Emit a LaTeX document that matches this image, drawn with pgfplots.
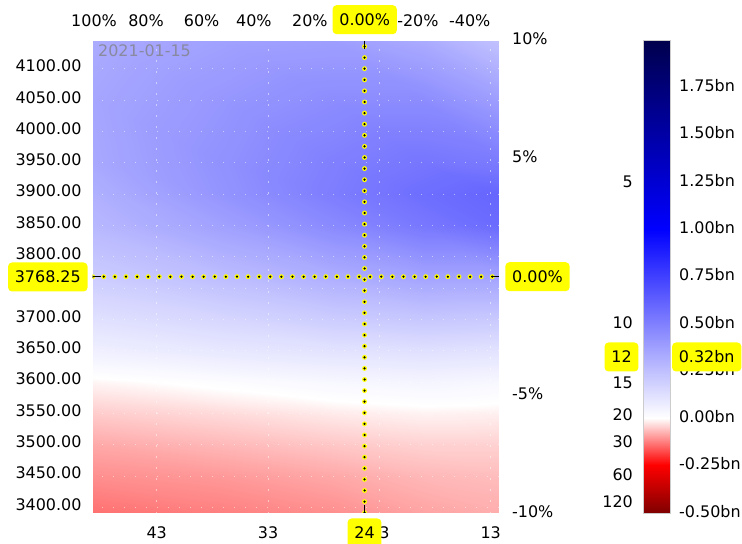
\documentclass[border=0pt]{standalone}
\usepackage{fontspec}
\setmainfont{DejaVu Sans}
\usepackage{pgfplots}
\usepackage{pgfplotstable}
\pgfplotsset{compat=1.18}
\definecolor{hl}{RGB}{255,255,0}
\newcommand\tf{\fontsize{16}{19}\selectfont}
\pgfplotsset{seismicmap/.style={colormap={seis}{rgb(0cm)=(0.5,0,0); rgb(0.25cm)=(1,0,0); rgb(0.5cm)=(1,1,1); rgb(1.5cm)=(0,0,1); rgb(2.5cm)=(0,0,0.3)},
  point meta min=-0.5, point meta max=2}}

\pgfplotstableread{
x y v
48.75 3391.4 -0.14
37 3391.4 -0.125
27 3391.4 -0.11
19 3391.4 -0.09
12.25 3391.4 -0.08
48.75 3450 -0.11
37 3450 -0.10
27 3450 -0.085
19 3450 -0.07
12.25 3450 -0.065
48.75 3500 -0.085
37 3500 -0.07
27 3500 -0.055
19 3500 -0.045
12.25 3500 -0.045
48.75 3550 -0.05
37 3550 -0.035
27 3550 -0.02
19 3550 -0.012
12.25 3550 -0.015
48.75 3600 -0.01
37 3600 0.01
27 3600 0.03
19 3600 0.04
12.25 3600 0.03
48.75 3650 0.06
37 3650 0.09
27 3650 0.11
19 3650 0.12
12.25 3650 0.11
48.75 3700 0.12
37 3700 0.16
27 3700 0.20
19 3700 0.22
12.25 3700 0.21
48.75 3768.25 0.20
37 3768.25 0.26
27 3768.25 0.32
19 3768.25 0.36
12.25 3768.25 0.36
48.75 3850 0.28
37 3850 0.37
27 3850 0.46
19 3850 0.53
12.25 3850 0.58
48.75 3900 0.31
37 3900 0.42
27 3900 0.51
19 3900 0.57
12.25 3900 0.60
48.75 3950 0.34
37 3950 0.43
27 3950 0.50
19 3950 0.54
12.25 3950 0.52
48.75 4050 0.35
37 4050 0.41
27 4050 0.45
19 4050 0.45
12.25 4050 0.38
48.75 4145.1 0.33
37 4145.1 0.37
27 4145.1 0.38
19 4145.1 0.33
12.25 4145.1 0.24
}\gexdata

\pgfplotstableread{
x y v
0 -0.5 -0.5
1 -0.5 -0.5
0 -0.25 -0.25
1 -0.25 -0.25
0 0 0
1 0 0
0 1 1
1 1 1
0 2 2
1 2 2
}\cbdata

\begin{document}
\begin{tikzpicture}
\path[use as bounding box] (0,0) rectangle (742bp,544bp);
\begin{axis}[
  at={(92.7bp,31.3bp)}, anchor=south west,
  scale only axis, width=406.3bp, height=472bp,
  xmin=12.25, xmax=48.75, x dir=reverse,
  ymin=3391.4, ymax=4145.1,
  seismicmap,
  axis line style={draw=none},
  major tick length=0pt,
  axis on top,
  grid=major,
  grid style={white, opacity=0.5, line width=1bp, dash pattern=on 1.2bp off 9.8bp},
  /pgf/number format/assume math mode=true,
  tick label style={font=\tf, text=black},
  xtick={43,33,23,13},
  xticklabel style={anchor=base, inner sep=0pt, yshift=-25.6bp},
  ytick={3400,3450,3500,3550,3600,3650,3700,3750,3800,3850,3900,3950,4000,4050,4100},
  yticklabel style={anchor=east, inner sep=0pt, xshift=-11bp, yshift=3bp,
    /pgf/number format/fixed, /pgf/number format/fixed zerofill,
    /pgf/number format/precision=2, /pgf/number format/1000 sep={}},
  extra x ticks={24.33}, extra y ticks={3768.25},
  extra x tick labels={\empty}, extra y tick labels={\empty},
  extra tick style={major tick length=8bp, tick style={draw=black, line width=1.3bp}, grid=none},
]
\addplot[surf, shader=interp, mesh/cols=5, point meta=explicit] table[x=x, y=y, meta=v] {\gexdata};
\addplot[draw=hl, line width=5bp, line cap=round, dash pattern=on 0pt off 11.1bp] coordinates {(24.33,3391.4) (24.33,4145.1)};
\addplot[draw=black, line width=2.5bp, line cap=round, dash pattern=on 0pt off 11.1bp] coordinates {(24.33,3391.4) (24.33,4145.1)};
\addplot[draw=hl, line width=5bp, line cap=round, dash pattern=on 0pt off 11.1bp] coordinates {(48.75,3768.25) (12.25,3768.25)};
\addplot[draw=black, line width=2.5bp, line cap=round, dash pattern=on 0pt off 11.1bp] coordinates {(48.75,3768.25) (12.25,3768.25)};
\end{axis}
\begin{axis}[
  at={(92.7bp,31.3bp)}, anchor=south west,
  scale only axis, width=406.3bp, height=472bp,
  xmin=12.25, xmax=48.75, x dir=reverse, ymin=-10, ymax=10,
  axis line style={draw=none}, major tick length=0pt,
  xticklabel pos=right, yticklabel pos=right,
  xtick={48.63,43.96,38.96,34.27,29.24,19.54,14.88},
  xticklabels={100\%,80\%,60\%,40\%,20\%,-20\%,-40\%},
  ytick={-10,-5,5,10}, yticklabels={-10\%,-5\%,5\%,10\%},
  tick label style={font=\tf, text=black},
  xticklabel style={anchor=base, inner sep=0pt, yshift=14bp},
  yticklabel style={anchor=west, inner sep=0pt, xshift=13bp, yshift=1.5bp},
]
\addplot[draw=none] coordinates {(20,0)};
\end{axis}
\begin{axis}[
  at={(643bp,31.3bp)}, anchor=south west,
  scale only axis, width=27bp, height=472.7bp,
  xmin=0, xmax=1, ymin=-0.5, ymax=2,
  seismicmap,
  axis on top,
  axis line style={draw=gray!40, line width=0.4bp},
  major tick length=0pt,
  xtick=\empty,
  ytick={-0.5,-0.25,0,0.25,0.5,0.75,1,1.25,1.5,1.75},
  yticklabels={-0.50bn,-0.25bn,0.00bn,0.25bn,0.50bn,0.75bn,1.00bn,1.25bn,1.50bn,1.75bn},
  yticklabel pos=right,
  yticklabel style={anchor=west, inner sep=0pt, xshift=9bp, yshift=1.5bp, font=\tf, text=black},
]
\addplot[surf, shader=interp, mesh/cols=2, point meta=explicit] table[x=x, y=y, meta=v] {\cbdata};
\end{axis}
\begin{scope}[every node/.append style={font=\tf}]
\tikzset{hlbox/.style={fill=hl, rounded corners=4bp, minimum height=29bp, inner xsep=6.8bp, inner ysep=0pt, text=black}}
\node[anchor=base west, inner sep=0pt, text=gray, text opacity=0.75] at (98bp,487.3bp) {2021-01-15};
\node[hlbox] at (47.8bp,267bp) {3768.25};
\node[hlbox] at (537.5bp,267.3bp) {0.00\%};
\node[hlbox] at (364.7bp,524.3bp) {0.00\%};
\node[hlbox] at (364.5bp,11bp) {24};
\node[hlbox] at (621.5bp,187bp) {12};
\node[hlbox] at (706.7bp,187bp) {0.32bn};
\node[anchor=east, inner sep=0pt] at (633bp,362.3bp) {5};
\node[anchor=east, inner sep=0pt] at (633bp,221bp) {10};
\node[anchor=east, inner sep=0pt] at (633bp,161bp) {15};
\node[anchor=east, inner sep=0pt] at (633bp,129bp) {20};
\node[anchor=east, inner sep=0pt] at (633bp,102bp) {30};
\node[anchor=east, inner sep=0pt] at (633bp,69bp) {60};
\node[anchor=east, inner sep=0pt] at (633bp,42bp) {120};
\end{scope}
\end{tikzpicture}
\end{document}
